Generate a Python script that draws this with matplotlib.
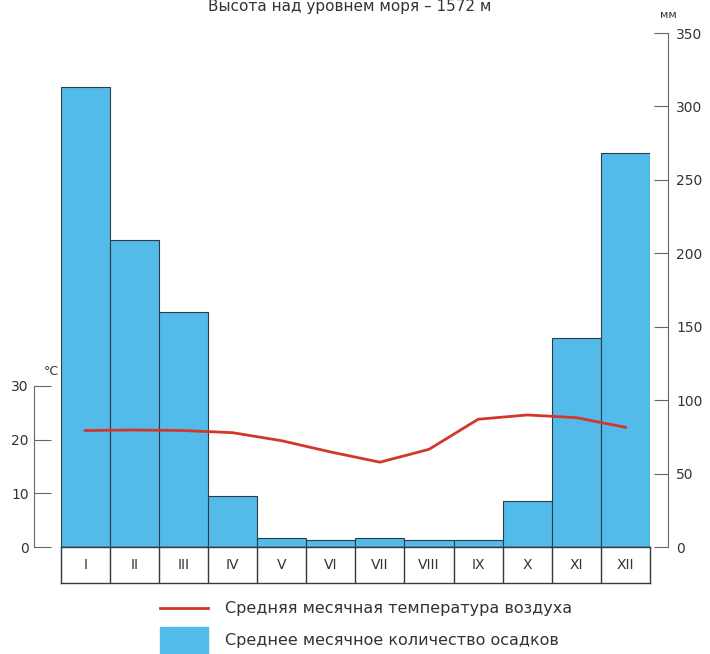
import matplotlib.pyplot as plt
from matplotlib.patches import Rectangle
from matplotlib.lines import Line2D

plt.rcParams['font.family'] = ['DejaVu Sans']

months = ['I', 'II', 'III', 'IV', 'V', 'VI', 'VII', 'VIII', 'IX', 'X', 'XI', 'XII']
precip = [313, 209, 160, 35, 6, 5, 6, 5, 5, 31, 142, 268]
temp = [21.7, 21.8, 21.7, 21.3, 19.8, 17.7, 15.8, 18.2, 23.8, 24.6, 24.1, 22.3]

title = 'Высота над уровнем моря – 1572 м'
leg_temp = 'Средняя месячная температура воздуха'
leg_prec = 'Среднее месячное количество осадков'

bar_color = '#52BBEA'
edge_color = '#2f3b44'
line_color = '#D2372C'
text_color = '#333333'
axis_color = '#666666'

fig = plt.figure(figsize=(7.1, 6.54), dpi=100)

# precipitation bars
ax = fig.add_axes([0.0855, 0.1636, 0.830, 0.7859])
ax2 = ax.twinx()

x = list(range(len(months)))
ax.bar(x, precip, width=1.0, color=bar_color, edgecolor=edge_color, linewidth=0.8)
ax.set_xlim(-0.5, 11.5)
ax.set_ylim(0, 350)
ax.set_xticks([])
for s in ['top', 'left', 'bottom', 'right']:
    ax.spines[s].set_visible(False)
ax.set_yticks([])
ax.axhline(0, color=edge_color, lw=1)

# temperature line, °C axis on the left
ax2.set_ylim(0, 350 / 3.655)
ax2.plot(x, temp, color=line_color, lw=2)
for s in ['top', 'right', 'bottom']:
    ax2.spines[s].set_visible(False)
ax2.spines['left'].set_visible(True)
ax2.spines['left'].set_position(('outward', 19))
ax2.spines['left'].set_bounds(0, 30)
ax2.spines['left'].set_color(axis_color)
ax2.yaxis.tick_left()
ax2.set_yticks([0, 10, 20, 30])
ax2.tick_params(axis='y', direction='in', length=12, width=0.8, color=axis_color,
                labelsize=10, labelcolor=text_color, pad=4)
ax2.text(-17 / 589, 31.5, '°C', transform=ax2.get_yaxis_transform(), ha='left',
         va='bottom', fontsize=9, color=text_color)

# mm scale on the right
axr = ax.secondary_yaxis(1.0 + 18 / 589)
axr.set_yticks(range(0, 351, 50))
axr.spines['right'].set_color(axis_color)
axr.tick_params(axis='y', direction='in', length=10, width=0.8, color=axis_color,
                labelsize=10, labelcolor=text_color, pad=6)
ax.text(1.0 + 18 / 589, 1.025, 'мм', transform=ax.transAxes, ha='center', va='bottom',
        fontsize=8, color=text_color)

# month label row
axm = fig.add_axes([0.0855, 0.1086, 0.830, 0.055])
axm.set_xlim(-0.5, 11.5)
axm.set_ylim(0, 1)
axm.set_xticks([])
axm.set_yticks([])
for s in axm.spines.values():
    s.set_color(edge_color)
    s.set_linewidth(1)
for i in range(1, len(months)):
    axm.axvline(i - 0.5, color=edge_color, lw=1)
for i, m in enumerate(months):
    axm.text(i, 0.5, m, ha='center', va='center', fontsize=10, color=text_color)

# title
fig.text(0.493, 1 - 11 / 654, title, ha='center', va='baseline', fontsize=11, color=text_color)

# legend
fig.add_artist(Line2D([160 / 710, 208 / 710], [1 - 608 / 654, 1 - 608 / 654],
                      color=line_color, lw=2))
fig.add_artist(Rectangle((160 / 710, 0), 48 / 710, 27 / 654, color=bar_color,
                         transform=fig.transFigure))
fig.text(225 / 710, 1 - 608 / 654, leg_temp, ha='left', va='center', fontsize=11.5,
         color=text_color)
fig.text(225 / 710, 1 - 641 / 654, leg_prec, ha='left', va='center', fontsize=11.5,
         color=text_color)

fig.savefig('out.png', dpi=100)
